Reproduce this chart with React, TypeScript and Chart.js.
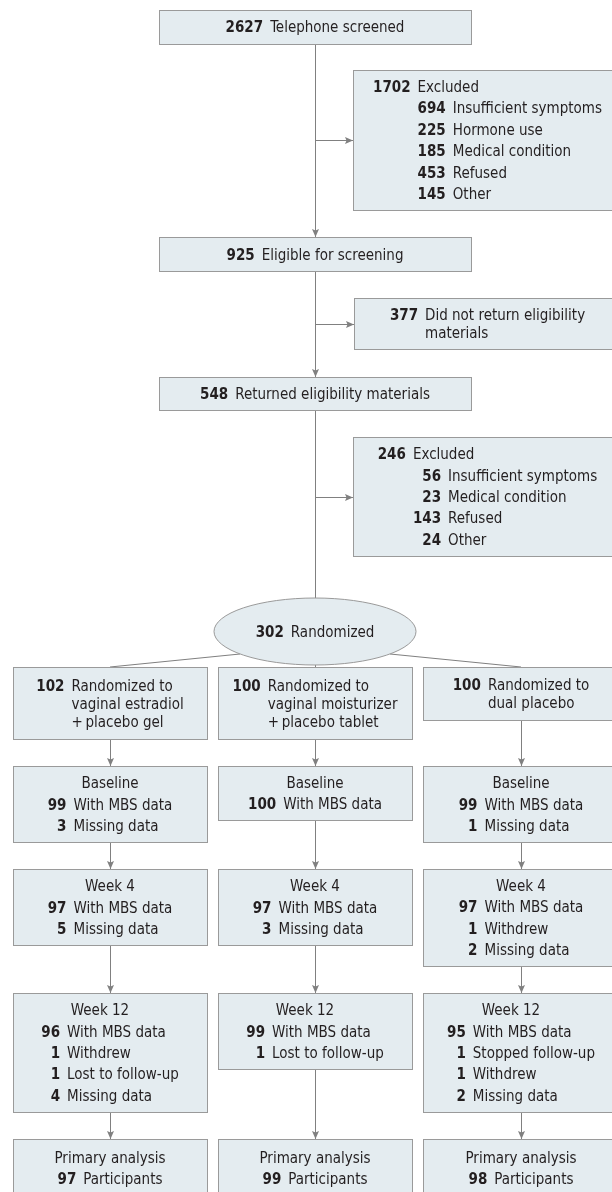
import React, { useEffect, useRef } from "react";
import { Chart, registerables } from "chart.js";

Chart.register(...registerables);

// ---------------- data ----------------
const screenCounts = [2627, 925, 548];
const screenLabels = ["Telephone screened", "Eligible for screening", "Returned eligibility materials"];
const exclusion1Counts = [1702, 694, 225, 185, 453, 145];
const exclusion1Labels = ["Excluded", "Insufficient symptoms", "Hormone use", "Medical condition", "Refused", "Other"];
const notReturnedCount = 377;
const notReturnedLabel = ["Did not return eligibility", "materials"];
const exclusion2Counts = [246, 56, 23, 143, 24];
const exclusion2Labels = ["Excluded", "Insufficient symptoms", "Medical condition", "Refused", "Other"];
const randomizedCount = 302;
const randomizedLabel = "Randomized";
const armCounts = [102, 100, 100];
const armLabels = [
  ["Randomized to", "vaginal estradiol", "+\u2009placebo gel"],
  ["Randomized to", "vaginal moisturizer", "+\u2009placebo tablet"],
  ["Randomized to", "dual placebo"],
];
const stageTitles = ["Baseline", "Week 4", "Week 12", "Primary analysis"];
const baselineWithData = [99, 100, 99];
const baselineMissing = [3, null, 1];
const week4WithData = [97, 97, 97];
const week4Withdrew = [null, null, 1];
const week4Missing = [5, 3, 2];
const week12WithData = [96, 99, 95];
const week12Stopped = [null, null, 1];
const week12Withdrew = [1, null, 1];
const week12Lost = [1, 1, null];
const week12Missing = [4, null, 2];
const primaryCounts = [97, 99, 98];

// ---------------- layout / style ----------------
const SPINE_X = 315;
const MAIN_X = [159, 471];
const MAIN_Y = [[10, 43.5], [237, 271], [377, 410]];
const SIDE_X = [353, 622];
const SIDE_Y = [[70, 210], [298, 349], [437, 556]];
const BRANCH_Y = [140, 323.5, 496.5];
const ELL = { cx: 315, cy: 631.5, rx: 101, ry: 33.5 };
const COL_X = [[13, 207], [218, 412], [423, 619]];
const ROW_Y0 = [667, 766, 869, 993, 1139];
const ROW_Y1 = [[739, 739, 720], [842, 820, 842], [945, 945, 966], [1112, 1069, 1112], [1197, 1197, 1197]];
const TITLE_DX = [0, 0, -10, 0];
const ELL_LEFT = [240, 654];
const ELL_RIGHT = [390, 654];

const FILL = "#e4ecf0";
const BORDER = "#9a9a9a";
const LINE = "#808080";
const TEXT = "#231f20";
const FAMILY = '"DejaVu Sans Condensed", "DejaVu Sans", sans-serif';
const FS = 15;
const GAP = 7;
const ITEM_STEP = 21.4;
const WRAP_STEP = 18;

type Line = { num?: number | null; text: string; level?: number; wrap?: boolean; title?: boolean; dx?: number };

function item(num: number | null, text: string, level = 0): Line | null {
  if (num === null || num === undefined) return null;
  return { num, text, level };
}

function buildArmStage(stage: number, c: number): Line[] {
  const lines: (Line | null)[] = [{ text: stageTitles[stage], title: true, dx: TITLE_DX[stage] }];
  if (stage === 0) {
    lines.push(item(baselineWithData[c], "With MBS data"));
    lines.push(item(baselineMissing[c], "Missing data"));
  } else if (stage === 1) {
    lines.push(item(week4WithData[c], "With MBS data"));
    lines.push(item(week4Withdrew[c], "Withdrew"));
    lines.push(item(week4Missing[c], "Missing data"));
  } else if (stage === 2) {
    lines.push(item(week12WithData[c], "With MBS data"));
    lines.push(item(week12Stopped[c], "Stopped follow-up"));
    lines.push(item(week12Withdrew[c], "Withdrew"));
    lines.push(item(week12Lost[c], "Lost to follow-up"));
    lines.push(item(week12Missing[c], "Missing data"));
  } else {
    lines.push(item(primaryCounts[c], "Participants"));
  }
  return lines.filter(Boolean) as Line[];
}

function wrapped(num: number, parts: string[]): Line[] {
  return parts.map((t, i) => (i === 0 ? { num, text: t, level: 0 } : { text: t, level: 0, wrap: true }));
}

function grouped(counts: number[], labels: string[]): Line[] {
  return counts.map((n, i) => ({ num: n, text: labels[i], level: i === 0 ? 0 : 1 }));
}

function drawBlock(ctx: CanvasRenderingContext2D, lines: Line[], cx: number, cy: number) {
  const bold = `bold ${FS}px ${FAMILY}`;
  const reg = `${FS}px ${FAMILY}`;
  ctx.font = bold;
  let W0 = 0;
  let W1 = 0;
  lines.forEach((l) => {
    if (l.num !== undefined && l.num !== null) {
      const w = ctx.measureText(String(l.num)).width;
      if ((l.level || 0) === 0) W0 = Math.max(W0, w);
      else W1 = Math.max(W1, w);
    }
  });
  const lab0 = W0 > 0 ? W0 + GAP : 0;
  const num1R = lab0 + W1;
  const lab1 = num1R + GAP;
  ctx.font = reg;
  let blockW = 0;
  lines.forEach((l) => {
    if (l.title) return;
    const w = ctx.measureText(l.text).width;
    const start = (l.level || 0) === 0 ? lab0 : lab1;
    blockW = Math.max(blockW, start + w);
  });
  let total = 0;
  const offs: number[] = [];
  lines.forEach((l, i) => {
    if (i > 0) total += l.wrap ? WRAP_STEP : ITEM_STEP;
    offs.push(total);
  });
  const top = cy - total / 2;
  const left = cx - blockW / 2;
  ctx.fillStyle = TEXT;
  ctx.textBaseline = "alphabetic";
  lines.forEach((l, i) => {
    const y = top + offs[i] + 5.5;
    if (l.title) {
      ctx.font = reg;
      ctx.textAlign = "center";
      ctx.fillText(l.text, cx + (l.dx || 0), y);
      return;
    }
    const lvl = l.level || 0;
    if (l.num !== undefined && l.num !== null) {
      ctx.font = bold;
      ctx.textAlign = "right";
      ctx.fillText(String(l.num), left + (lvl === 0 ? W0 : num1R), y);
    }
    ctx.font = reg;
    ctx.textAlign = "left";
    ctx.fillText(l.text, left + (lvl === 0 ? lab0 : lab1), y);
  });
}

const flowPlugin = {
  id: "flow",
  afterDraw(chart: any) {
    const ctx: CanvasRenderingContext2D = chart.ctx;
    const xs = chart.scales.x;
    const ys = chart.scales.y;
    const X = (v: number) => xs.getPixelForValue(v);
    const Y = (v: number) => ys.getPixelForValue(v);
    const snap = (v: number) => Math.round(v) + 0.5;

    ctx.save();
    ctx.fillStyle = "#ffffff";
    ctx.fillRect(0, 0, chart.width, chart.height);

    const box = (x0: number, x1: number, y0: number, y1: number) => {
      const a = snap(X(x0));
      const b = snap(X(x1));
      const c = snap(Y(y0));
      const d = snap(Y(y1));
      ctx.fillStyle = FILL;
      ctx.fillRect(a, c, b - a, d - c);
      ctx.strokeStyle = BORDER;
      ctx.lineWidth = 1;
      ctx.strokeRect(a, c, b - a, d - c);
    };
    const line = (x0: number, y0: number, x1: number, y1: number) => {
      ctx.strokeStyle = LINE;
      ctx.lineWidth = 1;
      ctx.beginPath();
      const vx = x0 === x1;
      const hy = y0 === y1;
      ctx.moveTo(vx ? snap(X(x0)) : X(x0), hy ? snap(Y(y0)) : Y(y0));
      ctx.lineTo(vx ? snap(X(x1)) : X(x1), hy ? snap(Y(y1)) : Y(y1));
      ctx.stroke();
    };
    const headDown = (x: number, y: number) => {
      const px = snap(X(x));
      const py = Y(y);
      ctx.fillStyle = LINE;
      ctx.beginPath();
      ctx.moveTo(px, py);
      ctx.lineTo(px - 3.5, py - 8);
      ctx.lineTo(px, py - 6.5);
      ctx.lineTo(px + 3.5, py - 8);
      ctx.closePath();
      ctx.fill();
    };
    const headRight = (x: number, y: number) => {
      const px = X(x);
      const py = snap(Y(y));
      ctx.fillStyle = LINE;
      ctx.beginPath();
      ctx.moveTo(px, py);
      ctx.lineTo(px - 8, py - 3.5);
      ctx.lineTo(px - 6.5, py);
      ctx.lineTo(px - 8, py + 3.5);
      ctx.closePath();
      ctx.fill();
    };

    // spine connectors
    line(SPINE_X, MAIN_Y[0][1], SPINE_X, MAIN_Y[1][0]);
    headDown(SPINE_X, MAIN_Y[1][0]);
    line(SPINE_X, MAIN_Y[1][1], SPINE_X, MAIN_Y[2][0]);
    headDown(SPINE_X, MAIN_Y[2][0]);
    line(SPINE_X, MAIN_Y[2][1], SPINE_X, ELL.cy - ELL.ry);
    BRANCH_Y.forEach((by, i) => {
      const xEnd = i === 1 ? SIDE_X[0] + 1 : SIDE_X[0];
      line(SPINE_X, by, xEnd, by);
      headRight(xEnd, by);
    });

    // screening boxes
    MAIN_Y.forEach((yy, i) => {
      box(MAIN_X[0], MAIN_X[1], yy[0], yy[1]);
      drawBlock(ctx, [{ num: screenCounts[i], text: screenLabels[i], level: 0 }], X((MAIN_X[0] + MAIN_X[1]) / 2), Y((yy[0] + yy[1]) / 2));
    });

    // side boxes
    const sideContents: Line[][] = [
      grouped(exclusion1Counts, exclusion1Labels),
      wrapped(notReturnedCount, notReturnedLabel),
      grouped(exclusion2Counts, exclusion2Labels),
    ];
    SIDE_Y.forEach((yy, i) => {
      const x0 = i === 1 ? SIDE_X[0] + 1 : SIDE_X[0];
      box(x0, SIDE_X[1], yy[0], yy[1]);
      drawBlock(ctx, sideContents[i], X((SIDE_X[0] + SIDE_X[1]) / 2), Y((yy[0] + yy[1]) / 2));
    });

    // ellipse connectors
    const colCenters = COL_X.map((c) => (c[0] + c[1]) / 2);
    line(ELL_LEFT[0], ELL_LEFT[1], colCenters[0], ROW_Y0[0]);
    line(ELL_RIGHT[0], ELL_RIGHT[1], colCenters[2], ROW_Y0[0]);
    line(SPINE_X, ELL.cy + ELL.ry, SPINE_X, ROW_Y0[0]);

    // ellipse
    ctx.beginPath();
    ctx.ellipse(X(ELL.cx), Y(ELL.cy), X(ELL.cx + ELL.rx) - X(ELL.cx), Y(ELL.cy + ELL.ry) - Y(ELL.cy), 0, 0, Math.PI * 2);
    ctx.fillStyle = FILL;
    ctx.fill();
    ctx.strokeStyle = BORDER;
    ctx.lineWidth = 1;
    ctx.stroke();
    drawBlock(ctx, [{ num: randomizedCount, text: randomizedLabel, level: 0 }], X(ELL.cx), Y(ELL.cy));

    // arm columns
    COL_X.forEach((cx, c) => {
      const mid = colCenters[c];
      for (let r = 0; r < ROW_Y0.length; r++) {
        if (r > 0) {
          line(mid, ROW_Y1[r - 1][c], mid, ROW_Y0[r]);
          headDown(mid, ROW_Y0[r]);
        }
      }
      for (let r = 0; r < ROW_Y0.length; r++) {
        const y0 = ROW_Y0[r];
        const y1 = ROW_Y1[r][c];
        box(cx[0], cx[1], y0, y1);
        const content = r === 0 ? wrapped(armCounts[c], armLabels[c]) : buildArmStage(r - 1, c);
        drawBlock(ctx, content, X(mid), Y((y0 + y1) / 2));
      }
    });
    ctx.restore();
  },
};

export default function App() {
  const ref = useRef<HTMLCanvasElement | null>(null);
  useEffect(() => {
    if (!ref.current) return;
    const centers = [
      ...MAIN_Y.map((yy) => ({ x: SPINE_X, y: (yy[0] + yy[1]) / 2 })),
      { x: ELL.cx, y: ELL.cy },
    ];
    const chart = new Chart(ref.current, {
      type: "scatter",
      data: { datasets: [{ data: centers, pointRadius: 0, showLine: false }] },
      options: {
        animation: false,
        responsive: false,
        maintainAspectRatio: false,
        events: [],
        layout: { padding: 0 },
        plugins: { legend: { display: false }, tooltip: { enabled: false } },
        scales: {
          x: { type: "linear", min: 0, max: 612, display: false },
          y: { type: "linear", min: 0, max: 1192, reverse: true, display: false },
        },
      },
      plugins: [flowPlugin],
    } as any);
    return () => chart.destroy();
  }, []);
  return (
    <div style={{ position: "absolute", left: 0, top: 0, width: 612, height: 1192, background: "#fff" }}>
      <canvas ref={ref} width={612} height={1192} style={{ width: 612, height: 1192, display: "block" }} />
    </div>
  );
}
